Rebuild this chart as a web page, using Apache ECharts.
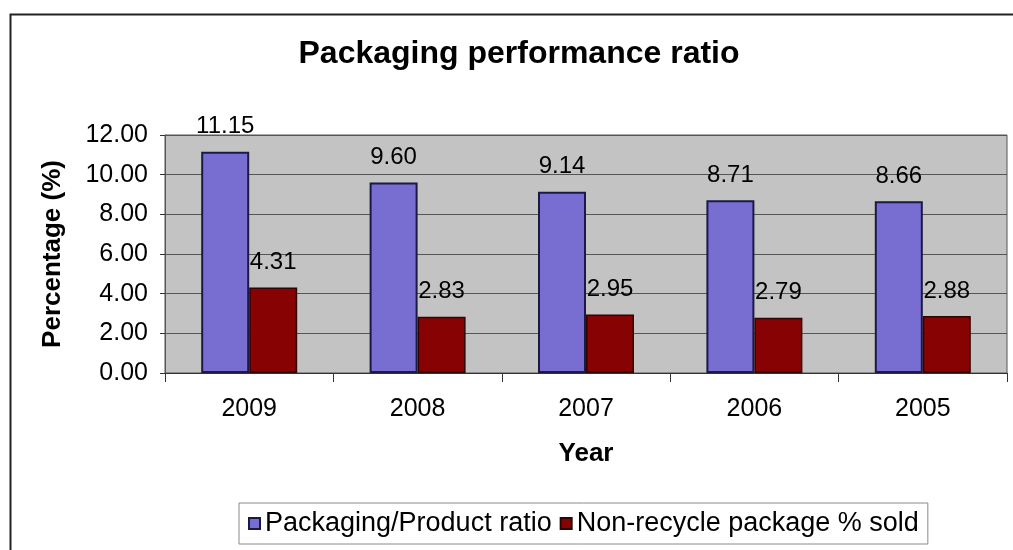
<!DOCTYPE html>
<html>
<head>
<meta charset="utf-8">
<script src="https://cdn.jsdelivr.net/npm/echarts@6/dist/echarts.min.js"></script>
<style>
  html, body { margin: 0; padding: 0; background: #ffffff; }
  #chart { width: 1013px; height: 550px; }
</style>
</head>
<body>
<div id="chart"></div>
<script>
// Packaging performance by year
const years = ['2009', '2008', '2007', '2006', '2005'];
const packagingRatio = [11.15, 9.60, 9.14, 8.71, 8.66];
const nonRecycleSold = [4.31, 2.83, 2.95, 2.79, 2.88];
const seriesNames = ['Packaging/Product ratio', 'Non-recycle package % sold'];

const FONT = '"Liberation Sans", Arial, sans-serif';
const chart = echarts.init(document.getElementById('chart'), null, { renderer: 'canvas' });

const labelStyle = {
  show: true,
  position: 'top',
  distance: 13,
  color: '#000',
  fontFamily: FONT,
  fontSize: 24,
  formatter: p => p.value.toFixed(2)
};

chart.setOption({
  backgroundColor: '#ffffff',
  animation: false,
  title: {
    text: 'Packaging performance ratio',
    left: 519,
    textAlign: 'center',
    top: 38,
    padding: 0,
    textStyle: { fontFamily: FONT, fontSize: 32, fontWeight: 'bold', color: '#000' }
  },
  graphic: [{
    type: 'rect',
    left: 8, top: 12,
    shape: { width: 1100, height: 600 },
    style: { fill: 'none', stroke: '#222', lineWidth: 2 },
    silent: true
  }],
  legend: {
    data: seriesNames,
    left: 239,
    top: 503,
    padding: [7, 9, 7, 9],
    itemWidth: 11,
    itemHeight: 11,
    itemGap: 8,
    borderColor: '#8a8a8a',
    borderWidth: 1,
    icon: 'rect',
    textStyle: { fontFamily: FONT, fontSize: 27, color: '#000' }
  },
  grid: {
    left: 165, right: 6, top: 135, bottom: 177,
    show: true,
    backgroundColor: '#c3c3c3',
    borderColor: '#555',
    borderWidth: 1
  },
  xAxis: {
    type: 'category',
    data: years,
    name: 'Year',
    nameLocation: 'middle',
    nameGap: 68,
    nameTextStyle: { fontFamily: FONT, fontSize: 26, fontWeight: 'bold', color: '#000' },
    axisLine: { lineStyle: { color: '#333', width: 1 } },
    axisTick: { show: true, length: 9, lineStyle: { color: '#333' } },
    axisLabel: { margin: 24, fontFamily: FONT, fontSize: 25, color: '#000' }
  },
  yAxis: {
    type: 'value',
    min: 0,
    max: 12,
    interval: 2,
    name: 'Percentage (%)',
    nameLocation: 'middle',
    nameRotate: 90,
    nameGap: 99,
    nameTextStyle: { fontFamily: FONT, fontSize: 26, fontWeight: 'bold', color: '#000' },
    axisLine: { show: true, lineStyle: { color: '#555' } },
    axisTick: { show: true, length: 5, lineStyle: { color: '#333' } },
    axisLabel: { margin: 17, fontFamily: FONT, fontSize: 25, color: '#000',
                 formatter: v => v.toFixed(2) },
    splitLine: { show: true, lineStyle: { color: '#555', width: 1 } }
  },
  series: [
    {
      name: seriesNames[0],
      type: 'bar',
      data: packagingRatio,
      barGap: '0%',
      barCategoryGap: '43%',
      itemStyle: { color: '#786ed2', borderColor: '#1b1a45', borderWidth: 2 },
      label: labelStyle
    },
    {
      name: seriesNames[1],
      type: 'bar',
      data: nonRecycleSold,
      barGap: '0%',
      barCategoryGap: '43%',
      itemStyle: { color: '#870303', borderColor: '#2e0505', borderWidth: 1.5 },
      label: labelStyle
    }
  ]
});
</script>
</body>
</html>
